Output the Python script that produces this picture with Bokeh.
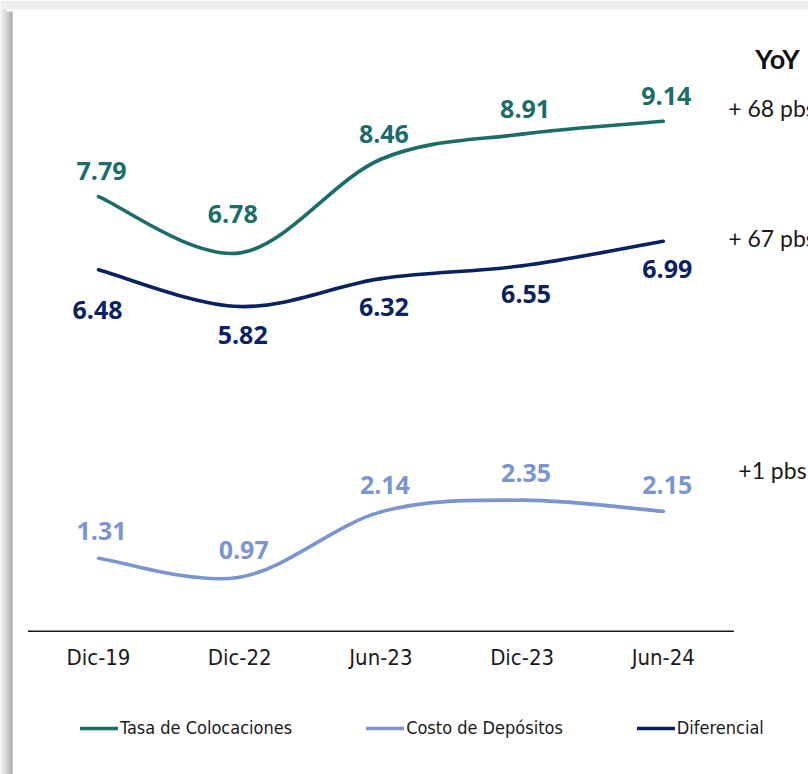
from bokeh.plotting import figure
from bokeh.models import (Range1d, FixedTicker, Legend, LegendItem, ColumnDataSource,
                          BoxAnnotation)
from bokeh.core.properties import value
from bokeh.embed import file_html
from bokeh.resources import INLINE

# ---- data ----
categories = ["Dic-19", "Dic-22", "Jun-23", "Dic-23", "Jun-24"]
tasa_colocaciones = [7.79, 6.78, 8.46, 8.91, 9.14]
costo_depositos = [1.31, 0.97, 2.14, 2.35, 2.15]
diferencial = [6.48, 5.82, 6.32, 6.55, 6.99]
series_names = ["Tasa de Colocaciones", "Costo de Depósitos", "Diferencial"]
yoy_title = "YoY"

# ---- styles / layout ----
C_TASA = "#1b6d68"
C_COSTO = "#7b95d1"
C_DIF = "#0b2262"
LABEL_FONT = "Open Sans"
AXIS_FONT = "DejaVu Sans Condensed"

W, H = 808, 774
BAND_PX = 141.2          # width of one category band in pixels
LEFT_PAD_PX = 27.4       # space left of first band
PX_PER_UNIT = 55.8       # vertical pixels per unit
ZERO_PX = 630.8          # pixel row of the zero baseline

# label offsets in pixels (layout only)
tasa_dx = [3, -7, 3, 3, 3]
tasa_dy = [-26, -39, -25, -25, -25]
dif_dx = [-1, 3, 3, 4, 4]
dif_dy = [40, 28, 28, 28, 28]
costo_dx = [3, 4, 4, 4, 4]
costo_dy = [-27, -27, -27, -27, -26]

n = len(categories)
xs = list(range(n))
x_start = -0.5 - LEFT_PAD_PX / BAND_PX
y_start = -(H - ZERO_PX) / PX_PER_UNIT
y_end = y_start + H / PX_PER_UNIT
p = figure(width=W, height=H, output_backend="svg", toolbar_location=None,
           x_range=Range1d(x_start, x_start + W / BAND_PX),
           y_range=Range1d(y_start, y_end),
           y_axis_location=None,
           min_border_left=0, min_border_right=0, min_border_top=0, min_border_bottom=0)
p.outline_line_color = None
p.xgrid.visible = False
p.ygrid.visible = False
p.background_fill_color = "white"
p.border_fill_color = "white"

# slide frame decoration: light band on top, soft shadow on the left
p.add_layout(BoxAnnotation(bottom=y_end - 9 / PX_PER_UNIT, fill_color="#efefef",
                           fill_alpha=1, line_color=None, level="underlay"))
shadow = ["#ececec", "#e2e2e2", "#d6d6d6", "#c8c8c8", "#b8b8b8", "#a6a6a6"]
for i, c in enumerate(shadow):
    p.add_layout(BoxAnnotation(left=x_start + 2 * i / BAND_PX,
                               right=x_start + 2 * (i + 1) / BAND_PX,
                               top=y_end - (9 if i < 3 else 11) / PX_PER_UNIT,
                               fill_color=c, fill_alpha=1, line_color=None, level="underlay"))

ax = p.xaxis[0]
ax.fixed_location = 0
ax.ticker = FixedTicker(ticks=xs)
ax.major_label_overrides = {i: c for i, c in enumerate(categories)}
ax.axis_line_color = None
ax.major_tick_line_color = None
ax.minor_tick_line_color = None
ax.major_label_standoff = 8
ax.major_label_text_font = AXIS_FONT
ax.major_label_text_font_size = "22px"
ax.major_label_text_color = "#1a1a1a"

# category baseline spanning the category bands
p.segment(x0=[-0.5], y0=[0], x1=[n - 0.5], y1=[0], line_color="#1a1a1a", line_width=1.4)


def smooth_segments(ys):
    m = len(ys)
    pts = [(float(i), float(v)) for i, v in enumerate(ys)]
    def P(i):
        return pts[min(max(i, 0), m - 1)]
    d = dict(x0=[], y0=[], x1=[], y1=[], cx0=[], cy0=[], cx1=[], cy1=[])
    for i in range(m - 1):
        p0, p1, p2, p3 = P(i - 1), P(i), P(i + 1), P(i + 2)
        d["x0"].append(p1[0]); d["y0"].append(p1[1])
        d["x1"].append(p2[0]); d["y1"].append(p2[1])
        d["cx0"].append(p1[0] + (p2[0] - p0[0]) / 6.0)
        d["cy0"].append(p1[1] + (p2[1] - p0[1]) / 6.0)
        d["cx1"].append(p2[0] - (p3[0] - p1[0]) / 6.0)
        d["cy1"].append(p2[1] - (p3[1] - p1[1]) / 6.0)
    return ColumnDataSource(d)


legend_items = []
for name, vals, col, dx, dy in [
    (series_names[0], tasa_colocaciones, C_TASA, tasa_dx, tasa_dy),
    (series_names[1], costo_depositos, C_COSTO, costo_dx, costo_dy),
    (series_names[2], diferencial, C_DIF, dif_dx, dif_dy),
]:
    r = p.bezier(x0="x0", y0="y0", x1="x1", y1="y1", cx0="cx0", cy0="cy0", cx1="cx1",
                 cy1="cy1", source=smooth_segments(vals), line_color=col, line_width=3.6,
                 line_cap="round")
    src = ColumnDataSource(dict(x=xs, y=vals, t=[f"{v:.2f}" for v in vals], dx=dx, dy=dy))
    p.text(x="x", y="y", text="t", source=src, x_offset="dx", y_offset="dy",
           text_align="center", text_baseline="middle", text_color=col,
           text_font=value(LABEL_FONT), text_font_style="bold", text_font_size="25px")
    legend_items.append(LegendItem(label=name, renderers=[r], index=0))

legend = Legend(items=legend_items, orientation="horizontal", location=(80, 36),
                glyph_width=38, glyph_height=20, label_standoff=2, spacing=74,
                padding=0, margin=0, border_line_color=None, background_fill_alpha=0,
                label_text_font=AXIS_FONT, label_text_font_size="18px",
                label_text_color="#1a1a1a")
p.add_layout(legend, "center")

# YoY change column (basis points vs Jun-23)
last = n - 1
def yoy_text(vals):
    d = int(round((vals[last] - vals[2]) * 100))
    return f"+ {d} pbs" if d >= 10 else f"+{d} pbs"

yoy_src = ColumnDataSource(dict(
    x=[last, last, last],
    y=[tasa_colocaciones[last], diferencial[last], costo_depositos[last]],
    t=[yoy_text(tasa_colocaciones), yoy_text(diferencial), yoy_text(costo_depositos)],
    dx=[65, 65, 75],
    dy=[-13, -3, -41],
))
p.text(x="x", y="y", text="t", source=yoy_src, x_offset="dx", y_offset="dy",
       text_align="left", text_baseline="middle", text_color="#1a1a1a",
       text_font=value("Lato"), text_font_size="23px")
p.text(x=[last], y=[tasa_colocaciones[last]], text=[yoy_title], x_offset=92, y_offset=-63,
       text_align="left", text_baseline="middle", text_color="#111111",
       text_font=value("Lato"), text_font_style="bold", text_font_size="27px")

open("out.html", "w").write(file_html(p, INLINE))
